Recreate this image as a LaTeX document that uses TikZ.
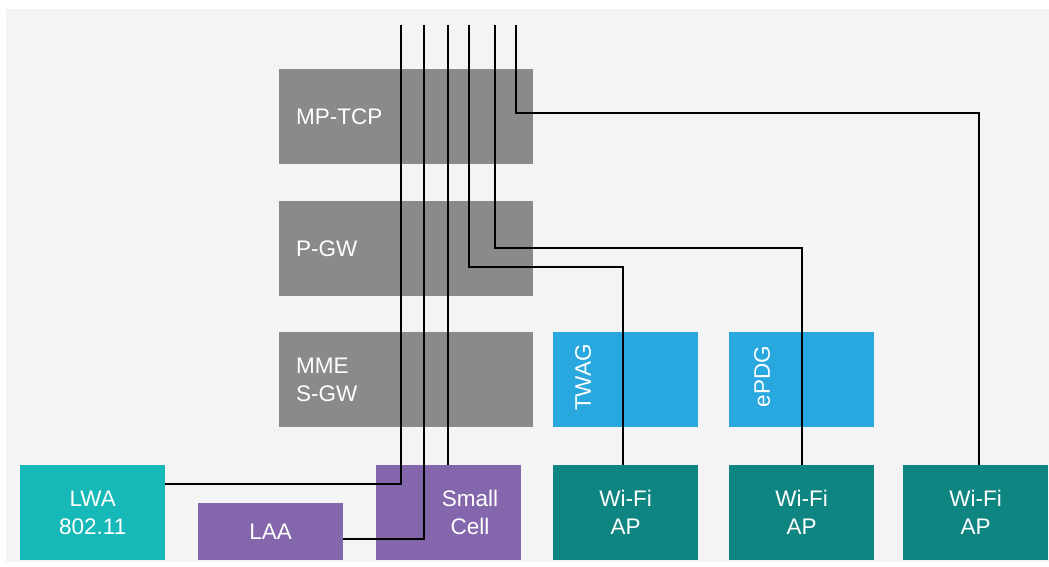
\documentclass[tikz,border=0pt]{standalone}
\usepackage{fontspec}
\setmainfont{Liberation Sans}
\begin{document}
\begin{tikzpicture}[x=1pt,y=-1pt,
  every node/.style={font=\fontsize{22.5}{28}\selectfont, text=white},
  blk/.style={draw=none, inner sep=0pt, anchor=north west, minimum height=95pt},
  wide/.style={blk, fill=cgray, minimum width=254pt},
  sq/.style={blk, minimum width=145pt, align=center},
  wire/.style={line width=2.4pt, black}
]
\definecolor{cbg}{HTML}{F4F4F4}
\definecolor{cgray}{HTML}{8A8A8B}
\definecolor{cteal}{HTML}{17B8B8}
\definecolor{cpurple}{HTML}{8366AB}
\definecolor{cblue}{HTML}{29A8E0}
\definecolor{cdteal}{HTML}{0F8581}
\useasboundingbox (0,0) rectangle (1049,567);
\fill[cbg] (6,9) rectangle (1049,562);

% gray stack
\node[wide, text width=220pt, inner xsep=17pt, align=left] (mptcp) at (279,69) {MP-TCP};
\node[wide, text width=220pt, inner xsep=17pt, align=left] (pgw) at (279,201) {P-GW};
\node[wide, text width=220pt, inner xsep=17pt, align=left] (mme) at (279,332) {MME\\S-GW};

% blue gateways
\node[sq, fill=cblue] (twag) at (553,332) {};
\node[rotate=90, anchor=east, inner sep=0pt] (twagt) at (583,344) {TWAG};
\node[sq, fill=cblue] (epdg) at (729,332) {};
\node[rotate=90, anchor=east, inner sep=0pt] (epdgt) at (762,346) {ePDG};

% bottom row
\node[sq, fill=cteal] (lwa) at (20,465) {LWA\\802.11};
\node[sq, fill=cpurple, minimum height=57pt] (laa) at (198,503) {LAA};
\node[sq, fill=cpurple] (cell) at (376,465) {};
\node[align=center, inner sep=0pt] (cellt) at (470,512) {Small\\Cell};
\node[sq, fill=cdteal] (ap1) at (553,465) {Wi-Fi\\AP};
\node[sq, fill=cdteal] (ap2) at (729,465) {Wi-Fi\\AP};
\node[sq, fill=cdteal] (ap3) at (903,465) {Wi-Fi\\AP};

% top wire ends
\coordinate (t1) at (401,25);
\coordinate (t2) at (424,25);
\coordinate (t3) at (448,25);
\coordinate (t4) at (469,25);
\coordinate (t5) at (495,25);
\coordinate (t6) at (516,25);

% wires
\draw[wire] (t1) |- ([yshift=-19pt]lwa.north east);
\draw[wire] (t2) |- ([yshift=-7pt]laa.east);
\draw[wire] (t3) -- (t3 |- cell.north);
\draw[wire] (t4) -- ++(0,242) -| ([xshift=-3pt]ap1.north);
\draw[wire] (t5) -- ++(0,223) -| (ap2.north);
\draw[wire] (t6) -- ++(0,88) -| ([xshift=3pt]ap3.north);
\end{tikzpicture}
\end{document}
